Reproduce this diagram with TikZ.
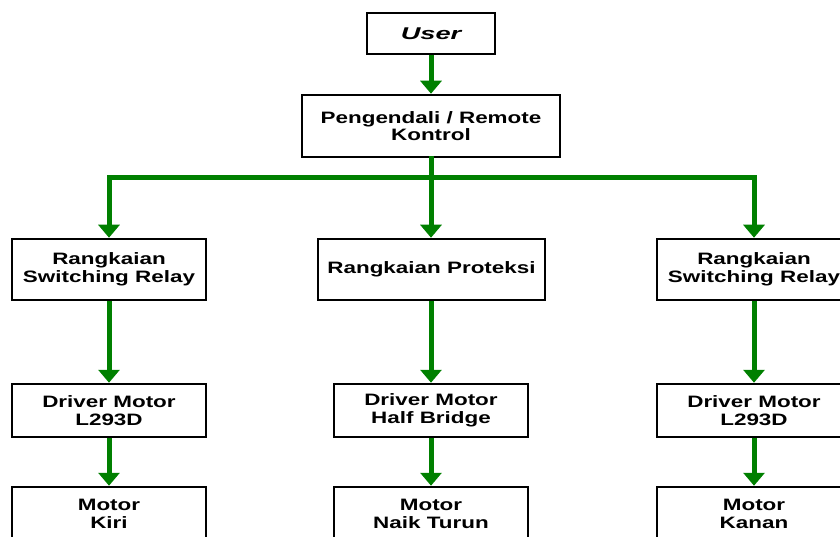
\documentclass[tikz,border=0pt]{standalone}
\usepackage{fontspec}
\setmainfont[FakeStretch=1.36]{Liberation Sans}
\newfontfamily\userfont[FakeStretch=1.6]{Liberation Sans}
\usetikzlibrary{arrows.meta}
\definecolor{arrowgreen}{RGB}{0,128,0}
\begin{document}
\begin{tikzpicture}[x=1bp,y=-1bp,
  box/.style={draw=black, line width=2.5bp, fill=white, inner sep=0pt, align=center,
    font={\fontsize{16.5bp}{17.5bp}\selectfont\bfseries}},
  conn/.style={draw=arrowgreen, line width=5bp},
  arr/.style={conn, -{Triangle[width=21bp,length=13bp]}}]
\useasboundingbox (0,0) rectangle (840,537);
\clip (0,0) rectangle (840,537);
\fill[white] (0,0) rectangle (840,537);

\node[box, minimum width=128bp, minimum height=41bp] (user) at (431,33.5)
  {\userfont\fontsize{17bp}{18bp}\selectfont\bfseries\itshape User};
\node[box, minimum width=258bp, minimum height=62bp] (peng) at (431,126)
  {Pengendali / Remote\\Kontrol};

\node[box, minimum width=194bp, minimum height=61bp] (relayL) at (109,269.5)
  {Rangkaian\\Switching Relay};
\node[box, minimum width=227bp, minimum height=61bp] (prot) at (431.5,269.5)
  {Rangkaian Proteksi};
\node[box, minimum width=194bp, minimum height=61bp] (relayR) at (754,269.5)
  {Rangkaian\\Switching Relay};

\node[box, minimum width=194bp, minimum height=53bp] (drvL) at (109,410.5)
  {Driver Motor\\L293D};
\node[box, minimum width=194bp, minimum height=53bp] (drvM) at (431,410.5)
  {Driver Motor\\Half Bridge};
\node[box, minimum width=194bp, minimum height=53bp] (drvR) at (754,410.5)
  {Driver Motor\\L293D};

\node[box, minimum width=194bp, minimum height=54bp] (motL) at (109,514)
  {Motor\\Kiri};
\node[box, minimum width=194bp, minimum height=54bp] (motM) at (431,514)
  {Motor\\Naik Turun};
\node[box, minimum width=194bp, minimum height=54bp] (motR) at (754,514)
  {Motor\\Kanan};

\coordinate (bus) at (431,178);

\draw[arr] (user.south) -- (peng.north);
\draw[conn, line cap=rect] (peng.south) -- (bus);
\draw[arr] (bus) -- (prot.north -| bus);
\draw[arr] (bus) -| (relayL.north);
\draw[arr] (bus) -| (relayR.north);

\draw[arr] (relayL.south) -- (drvL.north);
\draw[arr] (prot.south -| drvM.north) -- (drvM.north);
\draw[arr] (relayR.south) -- (drvR.north);

\draw[arr] (drvL.south) -- (motL.north);
\draw[arr] (drvM.south) -- (motM.north);
\draw[arr] (drvR.south) -- (motR.north);
\end{tikzpicture}
\end{document}
